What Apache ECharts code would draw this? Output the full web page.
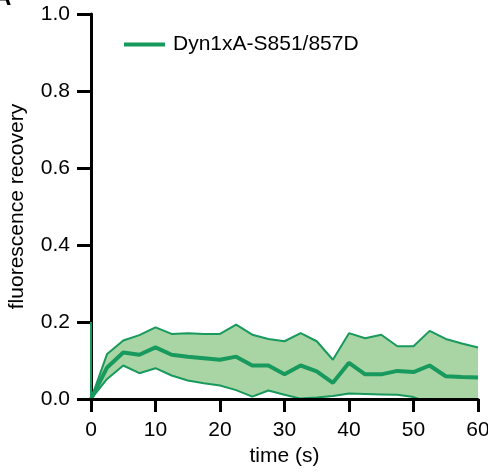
<!DOCTYPE html>
<html>
<head>
<meta charset="utf-8">
<script src="https://cdn.jsdelivr.net/npm/echarts@6/dist/echarts.min.js"></script>
<style>
  html, body { margin: 0; padding: 0; background: #fff; }
  #chart { width: 488px; height: 473px; }
</style>
</head>
<body>
<div id="chart"></div>
<script>
// time points (s)
var times = [0, 2.5, 5, 7.5, 10, 12.5, 15, 17.5, 20, 22.5, 25, 27.5, 30,
             32.5, 35, 37.5, 40, 42.5, 45, 47.5, 50, 52.5, 55, 57.5, 60];
// mean recovery
var meanVals = [0, 0.082, 0.121, 0.115, 0.134, 0.115, 0.110, 0.106, 0.102, 0.110, 0.087, 0.087, 0.064,
                0.087, 0.072, 0.042, 0.094, 0.064, 0.064, 0.073, 0.070, 0.087, 0.059, 0.057, 0.056];
// upper bound of the band
var upperVals = [0, 0.117, 0.152, 0.166, 0.186, 0.169, 0.171, 0.169, 0.169, 0.193, 0.167, 0.156, 0.150,
                 0.171, 0.150, 0.102, 0.171, 0.158, 0.167, 0.137, 0.137, 0.177, 0.156, 0.144, 0.134];
// lower bound of the band (goes below 0 at the end)
var lowerVals = [0, 0.052, 0.087, 0.067, 0.080, 0.061, 0.048, 0.041, 0.035, 0.023, 0.006, 0.022, 0.011,
                 0.001, 0.004, 0.008, 0.014, 0.013, 0.012, 0.011, 0.005, -0.01, -0.02, -0.02, -0.03];
// drop at bleach (t = 0)
var bleachDrop = [[0, 0.2], [0, 0]];

var xTicks = [0, 10, 20, 30, 40, 50, 60];
var yTicks = [0, 0.2, 0.4, 0.6, 0.8, 1.0];

var seriesName = 'Dyn1xA-S851/857D';
var lineColor = '#18995d';
var fillColor = '#a8d5a3';
var font = '"Liberation Sans", Arial, sans-serif';

function pairs(vals) {
	return times.map(function (t, i) { return [t, vals[i]]; });
}

var chart = echarts.init(document.getElementById('chart'));
var option = {
	animation: false,
	backgroundColor: '#fff',
	title: {
		text: 'A',
		left: -11,
		top: -19,
		textStyle: { fontFamily: font, fontSize: 24, fontWeight: 'bold', color: '#000' }
	},
	legend: {
		data: [seriesName],
		left: 119,
		top: 29,
		icon: 'rect',
		itemWidth: 41,
		itemHeight: 4,
		textStyle: { fontFamily: font, fontSize: 21, color: '#000', padding: [0, 0, 0, 3] }
	},
	grid: { left: 91, right: 10, top: 14, bottom: 74, outerBoundsMode: 'none' },
	xAxis: {
		type: 'value',
		z: 10,
		min: xTicks[0],
		max: xTicks[xTicks.length - 1],
		interval: 10,
		name: 'time (s)',
		nameLocation: 'middle',
		nameGap: 47,
		nameTextStyle: { fontFamily: font, fontSize: 21, color: '#000' },
		axisLine: { lineStyle: { color: '#000', width: 3 } },
		axisTick: { length: 13, lineStyle: { color: '#000', width: 3 } },
		axisLabel: { margin: 21, fontFamily: font, fontSize: 21, color: '#000' },
		splitLine: { show: false }
	},
	yAxis: {
		type: 'value',
		min: yTicks[0],
		max: yTicks[yTicks.length - 1],
		interval: 0.2,
		name: 'fluorescence recovery',
		nameLocation: 'middle',
		nameGap: 63,
		nameTextStyle: { fontFamily: font, fontSize: 21, color: '#000' },
		axisLine: { show: true, lineStyle: { color: '#000', width: 3 } },
		axisTick: { show: true, length: 14, lineStyle: { color: '#000', width: 3 } },
		axisLabel: {
			margin: 21, fontFamily: font, fontSize: 21, color: '#000',
			formatter: function (v) { return v.toFixed(1); }
		},
		splitLine: { show: false }
	},
	series: [
		// band fill: upper area in green, then lower area in white on top
		{
			name: 'upperFill',
			type: 'line',
			data: pairs(upperVals),
			symbol: 'none',
			lineStyle: { width: 0 },
			areaStyle: { color: fillColor, opacity: 1 },
			z: 1
		},
		{
			name: 'lowerFill',
			type: 'line',
			data: pairs(lowerVals),
			symbol: 'none',
			lineStyle: { width: 0 },
			areaStyle: { color: '#fff', opacity: 1 },
			z: 2
		},
		{
			name: 'upper',
			type: 'line',
			data: pairs(upperVals),
			symbol: 'none',
			lineStyle: { color: lineColor, width: 2 },
			z: 3
		},
		{
			name: 'lower',
			type: 'line',
			data: pairs(lowerVals),
			symbol: 'none',
			lineStyle: { color: lineColor, width: 2 },
			z: 3
		},
		{
			name: 'drop',
			type: 'line',
			data: bleachDrop,
			symbol: 'none',
			lineStyle: { color: lineColor, width: 2 },
			z: 4
		},
		{
			name: seriesName,
			type: 'line',
			data: pairs(meanVals),
			symbol: 'none',
			itemStyle: { color: lineColor },
			lineStyle: { color: lineColor, width: 4 },
			z: 5
		}
	]
};
chart.setOption(option);
</script>
</body>
</html>
